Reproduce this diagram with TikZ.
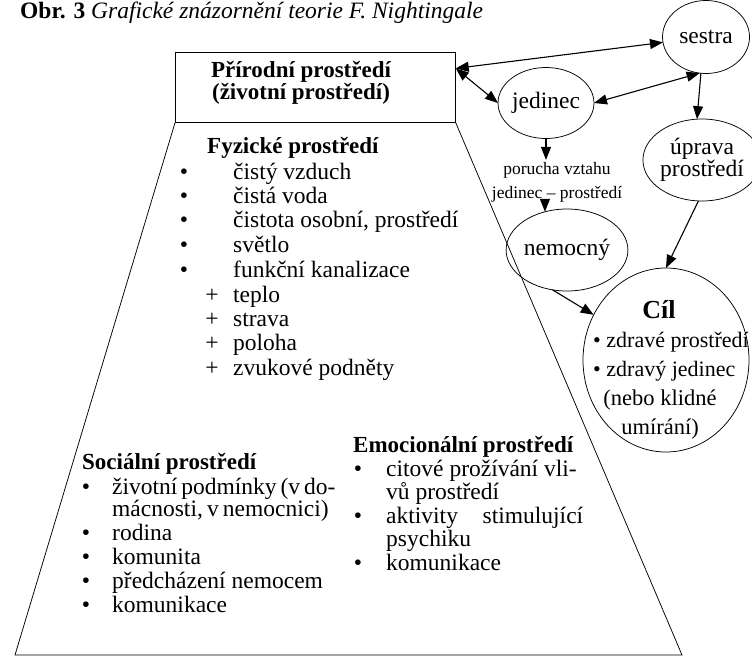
\documentclass[tikz,border=0pt]{standalone}
\usepackage{fontspec}
\setmainfont{Liberation Serif}
\usepackage{calc}
\usetikzlibrary{arrows.meta,shapes.geometric}
\newcommand\fsz[2]{\fontsize{#1}{#2}\selectfont}
\begin{document}
\begin{tikzpicture}[x=1pt,y=-1pt,
  shp/.style={draw,line width=0.75pt},
  circ/.style={ellipse,draw,line width=0.75pt,inner sep=0pt,outer sep=0pt},
  arr/.style={line width=1.1pt,-{Triangle[length=13pt,width=10pt]}},
  darr/.style={line width=1.1pt,{Triangle[length=13pt,width=10pt]}-{Triangle[length=13pt,width=10pt]}},
  tx/.style={inner sep=0pt,anchor=base west,font=\fsz{23.5}{24}},
  txb/.style={inner sep=0pt,anchor=base west,font=\bfseries\fsz{23}{24}},
  mk/.style={inner sep=0pt,anchor=base,font=\fsz{23.5}{24}},
  ctx/.style={inner sep=0pt,anchor=base,font=\fsz{23.5}{24}},
]
\useasboundingbox (0,0) rectangle (752,657);

% title
\node[tx,font=\fsz{23.5}{24}] (title) at (20,18) {{\bfseries Obr. 3} \itshape Grafické znázornění teorie F. Nightingale};

% box and trapezoid
\node[shp,anchor=north west,minimum width=280pt,minimum height=70pt,inner sep=0pt] (box) at (175,52) {};
\node[ctx,font=\bfseries\fsz{23}{24}] (boxa) at (301,77) {Přírodní prostředí};
\node[ctx,font=\bfseries\fsz{23}{24}] (boxb) at (301,99) {(životní prostředí)};
\coordinate (br) at (682,655);
\coordinate (bl) at (15,655);
\draw[line width=0.75pt] (box.south east) -- (br) -- (bl) -- (box.south west);

% physical environment
\node[txb] (fh) at (207,153) {Fyzické prostředí};
\node[mk] (fm1) at (184,179) {•}; \node[tx] (f1) at (233,179) {čistý vzduch};
\node[mk] (fm2) at (184,203) {•}; \node[tx] (f2) at (233,203) {čistá voda};
\node[mk] (fm3) at (184,227) {•}; \node[tx] (f3) at (233,227) {čistota osobní, prostředí};
\node[mk] (fm4) at (184,252) {•}; \node[tx] (f4) at (233,252) {světlo};
\node[mk] (fm5) at (184,277) {•}; \node[tx] (f5) at (233,277) {funkční kanalizace};
\node[mk] (fm6) at (212,302) {+}; \node[tx] (f6) at (233,302) {teplo};
\node[mk] (fm7) at (212,326) {+}; \node[tx] (f7) at (233,326) {strava};
\node[mk] (fm8) at (212,350) {+}; \node[tx] (f8) at (233,350) {poloha};
\node[mk] (fm9) at (212,375) {+}; \node[tx] (f9) at (233,375) {zvukové podněty};

% social environment
\node[txb] (sh) at (82,469) {Sociální prostředí};
\node[mk] (sm1) at (86,494) {•}; \node[tx] (s1) at (112,494) {\makebox[206pt][s]{životní podmínky (v do-}};
\node[tx] (s2) at (112,516) {\makebox[206pt][s]{mácnosti, v nemocnici)}};
\node[mk] (sm3) at (86,540) {•}; \node[tx] (s3) at (112,540) {rodina};
\node[mk] (sm4) at (86,564) {•}; \node[tx] (s4) at (112,564) {komunita};
\node[mk] (sm5) at (86,588) {•}; \node[tx] (s5) at (112,588) {předcházení nemocem};
\node[mk] (sm6) at (86,612) {•}; \node[tx] (s6) at (112,612) {komunikace};

% emotional environment
\node[txb] (eh) at (353,452) {Emocionální prostředí};
\node[mk] (em1) at (358,476) {•}; \node[tx] (e1) at (386,476) {citové prožívání vli-};
\node[tx] (e2) at (386,499) {vů prostředí};
\node[mk] (em3) at (358,523) {•}; \node[tx] (e3) at (386,523) {\makebox[197pt][s]{aktivity stimulující}};
\node[tx] (e4) at (386,546) {psychiku};
\node[mk] (em5) at (358,570) {•}; \node[tx] (e5) at (386,570) {komunikace};

% circles
\node[circ,minimum width=87pt,minimum height=73pt,font=\fsz{23.5}{24}] (ses) at (706,37) {sestra};
\node[circ,minimum width=81pt,minimum height=71pt,font=\fsz{23.5}{24}] (jed) at (546,103) {jedinec};
\node[circ,minimum width=93pt,minimum height=82pt,align=center,font=\fsz{23.5}{20}] (upr) at (702,160) {úprava\\prostředí};
\node[circ,minimum width=90pt,minimum height=82pt,font=\fsz{23.5}{24}] (nem) at (567,250) {nemocný};
\node[circ,minimum width=166pt,minimum height=184pt] (cil) at (666,360) {};
\node[ctx,font=\bfseries\fsz{26}{24}] (c1) at (659,318) {Cíl};
\node[tx,font=\fsz{22}{24}] (c2) at (593,347) {• zdravé prostředí};
\node[tx,font=\fsz{22}{24}] (c3) at (593,376) {• zdravý jedinec};
\node[ctx,font=\fsz{22.5}{24}] (c4) at (660,405) {(nebo klidné};
\node[ctx,font=\fsz{22.5}{24}] (c5) at (660,434) {umírání)};

% label
\node[inner sep=2pt,align=center,font=\fsz{17.5}{24}] (lab) at (557,182) {porucha vztahu\\jedinec -- prostředí};

% connectors
\coordinate (bx) at ([yshift=19pt]box.east);
\draw[darr] (bx) -- (ses);
\draw[darr] (bx) -- (jed.west);
\draw[darr] (jed.east) -- (ses.260);
\draw[arr] (ses.262) -- (upr.97);
\draw[arr] (jed.south) -- (jed.south |- lab.north);
\draw[arr] (lab.south -| nem.120) -- (nem.120);
\draw[arr] (nem.250) -- (cil.148);
\draw[arr] (upr.265) -- (cil.north);
\end{tikzpicture}
\end{document}
